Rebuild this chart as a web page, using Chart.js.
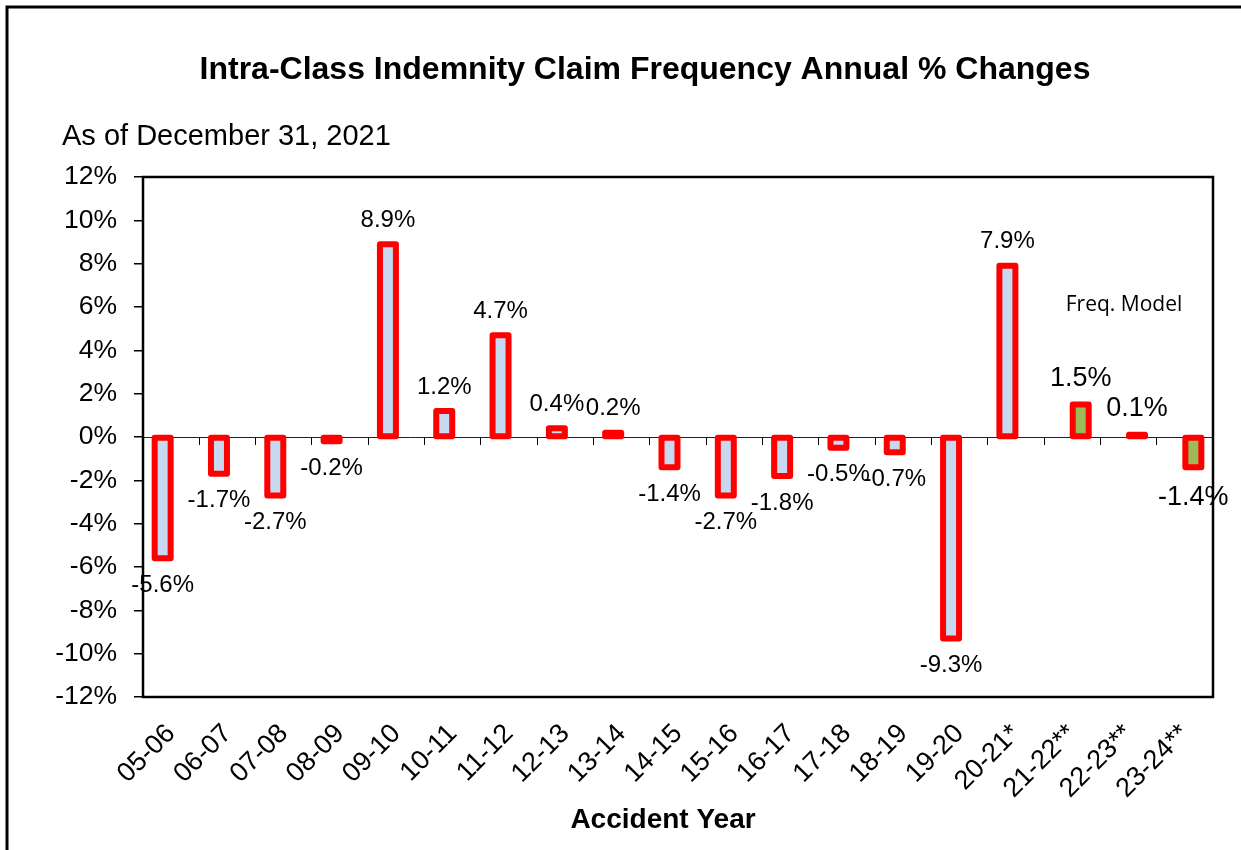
<!DOCTYPE html>
<html>
<head>
<meta charset="utf-8">
<script src="https://cdn.jsdelivr.net/npm/chart.js@4.4.0/dist/chart.umd.min.js"></script>
<style>
  html, body { margin: 0; padding: 0; background: #fff; overflow: hidden; }
  #wrap { width: 1241px; height: 850px; }
</style>
</head>
<body>
<div id="wrap"><canvas id="freq-chart" width="1241" height="850"></canvas></div>
<script>
// accident years on the x axis
const accidentYears = ['05-06', '06-07', '07-08', '08-09', '09-10', '10-11', '11-12', '12-13', '13-14',
  '14-15', '15-16', '16-17', '17-18', '18-19', '19-20', '20-21*', '21-22**', '22-23**', '23-24**'];
// annual % change, actual years (light blue bars)
const actualChange = [-5.6, -1.7, -2.7, -0.2, 8.9, 1.2, 4.7, 0.4, 0.2, -1.4, -2.7, -1.8, -0.5, -0.7, -9.3, 7.9];
// frequency model years (green bars)
const modelChange = [1.5, 0.1, -1.4];
// y axis tick values (%)
const pctTicks = [-12, -10, -8, -6, -4, -2, 0, 2, 4, 6, 8, 10, 12];

const nActual = actualChange.length;
const actualSeries = accidentYears.map((_, i) => (i < nActual ? actualChange[i] : null));
const modelSeries = accidentYears.map((_, i) => (i >= nActual ? modelChange[i - nActual] : null));

const ARIAL = '"Liberation Sans", Arial, sans-serif';

const decor = {
  id: 'decor',
  beforeDatasetsDraw(chart) {
    const { ctx, chartArea: a } = chart;
    ctx.save();
    ctx.strokeStyle = '#000';
    ctx.lineWidth = 2.5;
    ctx.strokeRect(a.left, a.top, a.right - a.left, a.bottom - a.top);
    ctx.restore();
  },
  afterDatasetsDraw(chart) {
    const ctx = chart.ctx;
    // Excel-style outline: 6px red line centred on the bar edge
    chart.data.datasets.forEach((ds, i) => {
      chart.getDatasetMeta(i).data.forEach((bar, j) => {
        if (ds.data[j] == null) return;
        const { x, y, base, width } = bar.getProps(['x', 'y', 'base', 'width'], true);
        ctx.save();
        ctx.strokeStyle = '#FF0000';
        ctx.lineWidth = 6;
        ctx.lineJoin = 'round';
        ctx.strokeRect(x - width / 2, Math.min(y, base), width, Math.abs(base - y));
        ctx.restore();
      });
    });
    // value labels
    chart.data.datasets.forEach((ds, i) => {
      const big = i === 1;
      chart.getDatasetMeta(i).data.forEach((bar, j) => {
        const v = ds.data[j];
        if (v == null) return;
        const { x, y } = bar.getProps(['x', 'y'], true);
        ctx.save();
        ctx.fillStyle = '#000';
        ctx.font = (big ? '27px ' : '24px ') + ARIAL;
        ctx.textAlign = 'center';
        ctx.textBaseline = 'middle';
        const off = v >= 0 ? -(big ? 26 : 24) : (big ? 30 : 27);
        ctx.fillText(v.toFixed(1) + '%', x, y + off);
        ctx.restore();
      });
    });
  },
  afterDraw(chart) {
    const { ctx, chartArea: a } = chart;
    ctx.save();
    // outer frame (runs off the right and bottom edges)
    ctx.strokeStyle = '#000';
    ctx.lineWidth = 3;
    ctx.beginPath();
    ctx.moveTo(7, chart.height);
    ctx.lineTo(7, 7);
    ctx.lineTo(chart.width, 7);
    ctx.stroke();

    ctx.fillStyle = '#000';
    ctx.textBaseline = 'middle';
    ctx.textAlign = 'center';
    ctx.font = 'bold 32px ' + ARIAL;
    ctx.fillText('Intra-Class Indemnity Claim Frequency Annual % Changes', 645, 70);
    ctx.font = 'bold 28px ' + ARIAL;
    ctx.fillText('Accident Year', 663, 820);

    ctx.textAlign = 'left';
    ctx.font = '29px ' + ARIAL;
    ctx.fillText('As of December 31, 2021', 62, 137);

    ctx.textAlign = 'center';
    ctx.font = '21px "Open Sans", sans-serif';
    ctx.fillText('Freq. Model', a.right - 89, chart.scales.y.getPixelForValue(6.1));
    ctx.restore();
  }
};

new Chart(document.getElementById('freq-chart'), {
  type: 'bar',
  data: {
    labels: accidentYears,
    datasets: [
      { label: 'Actual', data: actualSeries, backgroundColor: '#C6D9F1', borderWidth: 0, xAxisID: 'x', yAxisID: 'y' },
      { label: 'Freq. Model', data: modelSeries, backgroundColor: '#9BBB59', borderWidth: 0, xAxisID: 'x', yAxisID: 'y' }
    ]
  },
  options: {
    responsive: false,
    animation: false,
    categoryPercentage: 0.604,
    barPercentage: 0.94,
    layout: { padding: { top: 177, right: 28, left: 0, bottom: 0 } },
    plugins: { legend: { display: false }, title: { display: false }, tooltip: { enabled: false } },
    scales: {
      x: {
        type: 'category',
        offset: true,
        grid: { display: false },
        border: { display: false },
        ticks: {
          autoSkip: false, minRotation: 45, maxRotation: 45, padding: 13,
          color: '#000', font: { family: ARIAL, size: 27 }
        },
        afterFit: s => { s.height = 153; }
      },
      x0: {
        type: 'category',
        position: { y: 0 },
        offset: true,
        grid: { display: true, offset: true, drawOnChartArea: false, drawTicks: true, tickLength: 7, color: '#000', lineWidth: 1 },
        border: { display: true, color: '#222', width: 1 },
        ticks: { display: false },
        afterFit: s => { s.height = 0; }
      },
      y: {
        min: -12,
        max: 12,
        afterBuildTicks: s => { s.ticks = pctTicks.map(v => ({ value: v })); },
        grid: { display: true, drawOnChartArea: false, drawTicks: true, tickLength: 9, color: '#000', lineWidth: 1.5 },
        border: { display: false },
        ticks: {
          padding: 17, color: '#000', font: { family: ARIAL, size: 26.5 },
          callback: v => v + '%'
        },
        afterFit: s => { s.width = 143; }
      }
    }
  },
  plugins: [decor]
});
</script>
</body>
</html>
